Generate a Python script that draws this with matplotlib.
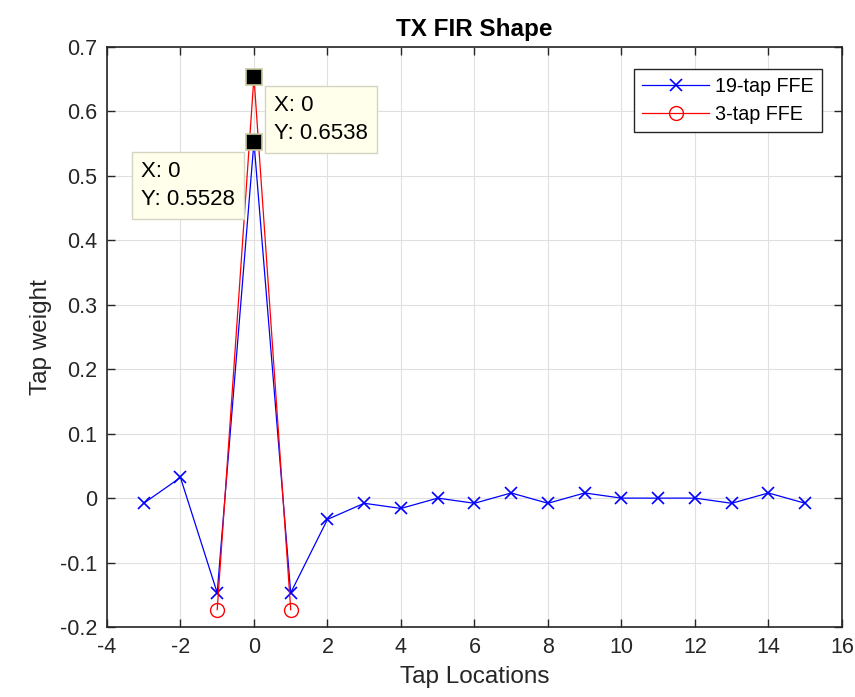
import numpy as np
import matplotlib
matplotlib.use('Agg')
import matplotlib.pyplot as plt

plt.rcParams['font.family'] = ['Liberation Sans', 'DejaVu Sans']

# 19-tap FFE taps
taps19 = [-3, -2, -1, 0, 1, 2, 3, 4, 5, 6, 7, 8, 9, 10, 11, 12, 13, 14, 15]
w19 = [-0.008, 0.032, -0.147, 0.5528, -0.147, -0.033, -0.008, -0.016, 0.0,
       -0.008, 0.008, -0.008, 0.008, 0.0, 0.0, 0.0, -0.008, 0.008, -0.008]

# 3-tap FFE taps
taps3 = [-1, 0, 1]
w3 = [-0.1731, 0.6538, -0.1731]

xticks = list(range(-4, 17, 2))
yticks = [-0.2, -0.1, 0, 0.1, 0.2, 0.3, 0.4, 0.5, 0.6, 0.7]
ytick_labels = ['-0.2', '-0.1', '0', '0.1', '0.2', '0.3', '0.4', '0.5', '0.6', '0.7']

dark = '#262626'

fig = plt.figure(figsize=(8.55, 6.97), dpi=100)
ax = fig.add_axes([0.1251, 0.1004, 0.8596, 0.8322])

ax.plot(taps19, w19, '-x', color='#0000ff', lw=0.9, ms=8, mew=1.2, label='19-tap FFE')
ax.plot(taps3, w3, '-o', color='#ff0000', lw=0.9, ms=10, mfc='none', mew=1.0, label='3-tap FFE')

ax.set_xlim(-4, 16)
ax.set_ylim(-0.2, 0.7)
ax.set_xticks(xticks)
ax.set_xticklabels([str(t) for t in xticks])
ax.set_yticks(yticks)
ax.set_yticklabels(ytick_labels)
ax.grid(True, color='#e0e0e0', lw=0.8)
ax.set_axisbelow(True)

ax.tick_params(direction='in', top=True, right=True, length=6, width=1,
               colors=dark, labelsize=15.5, pad=7)
for s in ax.spines.values():
    s.set_color(dark)
    s.set_linewidth(1.2)

ax.set_xlabel('Tap Locations', fontsize=17.5, color=dark, labelpad=6)
ax.set_ylabel('Tap weight', fontsize=17.5, color=dark, labelpad=6)
ax.set_title('TX FIR Shape', fontsize=17.5, fontweight='bold', color='black', pad=8)

leg = ax.legend(loc='upper right', bbox_to_anchor=(0.9728, 0.962), borderaxespad=0,
                fontsize=14.25, fancybox=False, framealpha=1, edgecolor=dark,
                handlelength=3.4, handletextpad=0.3, labelspacing=0.45, borderpad=0.4)
leg.get_frame().set_linewidth(1.0)

# data tips
tip_box = dict(boxstyle='square,pad=0.4', fc='#ffffeb', ec='#d4d4c4', lw=1)
ax.plot([0], [w3[1]], 's', color='black', ms=11, mec='#c8c8a0', mew=1.2, zorder=5)
ax.plot([0], [w19[3]], 's', color='black', ms=11, mec='#c8c8a0', mew=1.2, zorder=5)
ax.annotate('X: 0\nY: %.4f' % w3[1], xy=(0, w3[1]), xytext=(20, -18),
            textcoords='offset pixels', ha='left', va='top', fontsize=16,
            multialignment='left', linespacing=1.45, bbox=tip_box, zorder=6)
ax.annotate('X: 0\nY: %.4f' % w19[3], xy=(0, w19[3]), xytext=(-19, -19),
            textcoords='offset pixels', ha='right', va='top', fontsize=16,
            multialignment='left', linespacing=1.45, bbox=tip_box, zorder=6)

fig.savefig('out.png', dpi=100, facecolor='white')
